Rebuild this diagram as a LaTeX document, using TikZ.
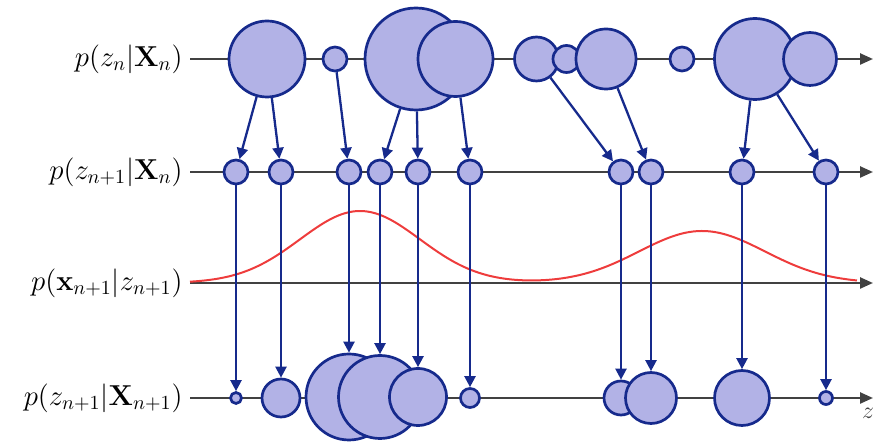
\documentclass[tikz,border=0pt]{standalone}
\usetikzlibrary{arrows.meta}
\definecolor{cfill}{RGB}{178,178,230}
\definecolor{cline}{RGB}{22,42,140}
\definecolor{caxis}{RGB}{65,65,65}
\definecolor{ccurve}{RGB}{238,60,60}
\pgfdeclarelayer{bg}
\pgfsetlayers{bg,main}
\tikzset{
  blob/.style={circle, draw=cline, fill=cfill, line width=1.35pt, inner sep=0pt, minimum size=#1pt},
  arr/.style={draw=cline, line width=1.15pt, -{Triangle[length=5.5pt,width=5.5pt]}},
  axisline/.style={draw=caxis, line width=1.2pt, -{Triangle[length=6.5pt,width=5.5pt]}},
  lbl/.style={anchor=east, font=\fontsize{14}{17}\selectfont, inner sep=0pt},
  curveline/.style={draw=ccurve, line width=1pt}
}
\begin{document}
\begin{tikzpicture}[x=0.5pt,y=-0.5pt]
\useasboundingbox (0,0) rectangle (884,442);
% labels
\node[lbl] (l1) at (183,59) {$p(z_n|\mathbf{X}_n)$};
\node[lbl] (l2) at (183,172) {$p(z_{n+1}|\mathbf{X}_n)$};
\node[lbl] (l3) at (183,283) {$p(\mathbf{x}_{n+1}|z_{n+1})$};
\node[lbl] (l4) at (183,398) {$p(z_{n+1}|\mathbf{X}_{n+1})$};
\node[font=\fontsize{13}{16}\selectfont, inner sep=0pt, text=caxis] (zl) at (868,413) {$z$};
% axis ends
\coordinate (s1) at (190,59);  \coordinate (e1) at (873,59);
\coordinate (s2) at (190,172); \coordinate (e2) at (873,172);
\coordinate (s3) at (190,283); \coordinate (e3) at (873,283);
\coordinate (s4) at (190,398); \coordinate (e4) at (873,398);
% row 1
\node[blob=38] (a1) at (267,59) {};
\node[blob=12] (a2) at (335,59) {};
\node[blob=51] (a3) at (416,59) {};
\node[blob=37.5] (a4) at (455.5,59) {};
\node[blob=22] (a5) at (536.5,59) {};
\node[blob=13.5] (a6) at (566.5,59) {};
\node[blob=30] (a7) at (606,59) {};
\node[blob=12] (a8) at (682,59) {};
\node[blob=40.5] (a9) at (755,59) {};
\node[blob=26.5] (a10) at (810,59) {};
% row 2
\foreach \n/\x in {1/236,2/281,3/349,4/380,5/418,6/470,7/621,8/651,9/742,10/826}
  \node[blob=12] (b\n) at (\x,172) {};
% row 4
\node[blob=5.5] (c1) at (236,398) {};
\node[blob=19] (c2) at (281,398) {};
\node[blob=43] (c3) at (349,397) {};
\node[blob=41.5] (c4) at (380,397) {};
\node[blob=28.5] (c5) at (418,397) {};
\node[blob=9.5] (c6) at (470,398) {};
\node[blob=17] (c7) at (621,398) {};
\node[blob=25.5] (c8) at (651,398) {};
\node[blob=27.5] (c9) at (742,398) {};
\node[blob=6.5] (c10) at (826,398) {};
\begin{pgfonlayer}{bg}
\draw[axisline] (s1) -- (e1);
\draw[axisline] (s2) -- (e2);
\draw[axisline] (s3) -- (e3);
\draw[axisline] (s4) -- (e4);
\draw[curveline] plot[domain=1.9:8.57, samples=160, smooth]
  ({\x*100}, {283 - 72*exp(-((\x-3.6)/0.6)^2/2) - 52*exp(-((\x-7.02)/0.63)^2/2)});
\draw[arr] (a1) -- (b1);
\draw[arr] (a1) -- (b2);
\draw[arr] (a2) -- (b3);
\draw[arr] (a3) -- (b4);
\draw[arr] (a3) -- (b5);
\draw[arr] (a4) -- (b6);
\draw[arr] (a5) -- (b7);
\draw[arr] (a7) -- (b8);
\draw[arr] (a9) -- (b9);
\draw[arr] (a9) -- (b10);
\foreach \n in {1,...,10} \draw[arr] (b\n) -- (c\n);
\end{pgfonlayer}
\end{tikzpicture}
\end{document}
